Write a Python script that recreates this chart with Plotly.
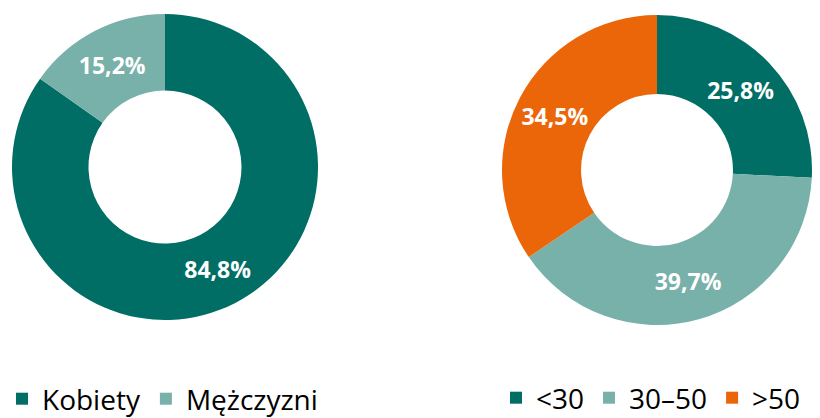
import plotly.graph_objects as go

# Płeć
gender_labels = ["Kobiety", "Mężczyzni"]
gender_values = [84.8, 15.2]

# Wiek
age_labels = ["<30", "30–50", ">50"]
age_values = [25.8, 39.7, 34.5]

DARK = "#006e65"
LIGHT = "#78b0aa"
ORANGE = "#eb6608"

# page body has an 8px margin, so the figure is drawn a bit smaller
OFF = 8
W, H = 820 - OFF, 418 - OFF


def px_x(a, b):
    return [(a - OFF) / W, (b - OFF) / W]


def px_y(top, bottom):
    return [(H - (bottom - OFF)) / H, (H - (top - OFF)) / H]


label_font = dict(family="Open Sans", size=23, color="white")

fig = go.Figure()

fig.add_trace(go.Pie(
    labels=gender_labels,
    values=gender_values,
    hole=0.5,
    sort=False,
    direction="clockwise",
    rotation=0,
    marker=dict(colors=[DARK, LIGHT], line=dict(width=0)),
    texttemplate="<b>%{value:.1f}%</b>",
    textposition="inside",
    insidetextorientation="horizontal",
    insidetextfont=label_font,
    domain=dict(x=px_x(12, 318), y=px_y(14, 320)),
    legend="legend",
))

fig.add_trace(go.Pie(
    labels=age_labels,
    values=age_values,
    hole=0.49,
    sort=False,
    direction="clockwise",
    rotation=0,
    marker=dict(colors=[DARK, LIGHT, ORANGE], line=dict(width=0)),
    texttemplate="<b>%{value:.1f}%</b>",
    textposition="inside",
    insidetextorientation="horizontal",
    insidetextfont=label_font,
    domain=dict(x=px_x(502, 812), y=px_y(15, 325)),
    legend="legend2",
))

legend_common = dict(
    orientation="h",
    font=dict(family="Open Sans", size=28, color="#000000"),
    bgcolor="rgba(0,0,0,0)",
    yanchor="bottom",
    xanchor="left",
    traceorder="normal",
)

fig.update_layout(
    width=W,
    height=H,
    margin=dict(l=0, r=0, t=0, b=0, autoexpand=False),
    paper_bgcolor="white",
    plot_bgcolor="white",
    separators=", ",
    showlegend=True,
    legend=dict(x=(2 - OFF) / W, y=-6 / H, **legend_common),
    legend2=dict(x=(496 - OFF) / W, y=-5 / H, **legend_common),
)

fig.write_html("out.html")
